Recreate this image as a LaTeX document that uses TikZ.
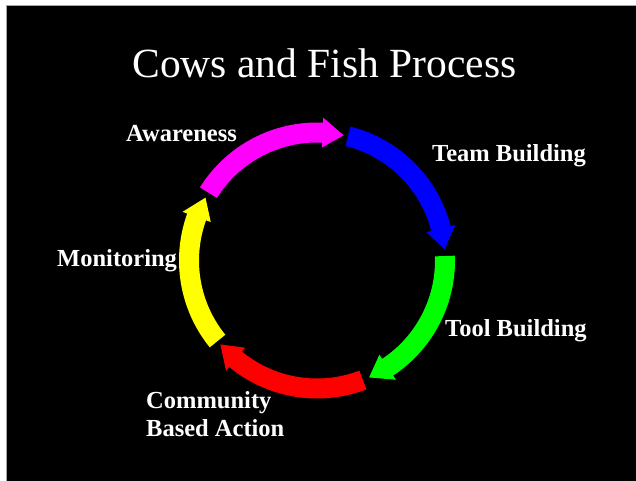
\documentclass[tikz,border=0pt]{standalone}
\usepackage{fontspec}
\newfontfamily\labelfont{Liberation Serif}
\definecolor{arrowmagenta}{RGB}{255,0,255}
\definecolor{arrowblue}{RGB}{0,0,255}
\definecolor{arrowgreen}{RGB}{0,255,0}
\definecolor{arrowred}{RGB}{255,0,0}
\definecolor{arrowyellow}{RGB}{255,255,0}
\tikzset{
    steplabel/.style={font=\labelfont\bfseries\fontsize{24.5}{28}\selectfont,text=white,inner sep=0pt,anchor=base west,align=left},
    titlelabel/.style={font=\labelfont\fontsize{41.5}{48}\selectfont,text=white,inner sep=0pt,anchor=base}
}

\begin{document}
\begin{tikzpicture}[x=1pt,y=1pt]
    \useasboundingbox (0,0) rectangle (636,481);
    \fill[white] (0,0) rectangle (636,481);
    \fill[black] (6,0) rectangle (636,476);
    \draw[gray!70,line width=0.8pt] (6,0) -- (6,476) -- (636,476);

    \node[titlelabel] (title) at (324.5,403) {Cows and Fish Process};

    \begin{scope}[shift={(317,220.5)}]
    \foreach \col/\st/\tip in {arrowblue/76/5, arrowgreen/2/-66, arrowred/-69/-139, arrowyellow/-141/-209.4, arrowmagenta/148/78}{
        \pgfmathsetmacro\bs{\tip+9.5}
        \fill[\col] (\st:138) arc[start angle=\st, end angle=\bs, radius=138] -- (\bs:143) -- (\tip:128) -- (\bs:113) -- (\bs:118)
            arc[start angle=\bs, end angle=\st, radius=118] -- cycle;
    }
    \end{scope}

    \node[steplabel] (awareness) at (126,339) {Awareness};
    \node[steplabel] (teambuilding) at (432,319) {Team Building};
    \node[steplabel] (toolbuilding) at (445,144) {Tool Building};
    \node[steplabel] (action) at (146,44) {Community\\Based Action};
    \node[steplabel] (monitoring) at (57,214) {Monitoring};
\end{tikzpicture}
\end{document}
